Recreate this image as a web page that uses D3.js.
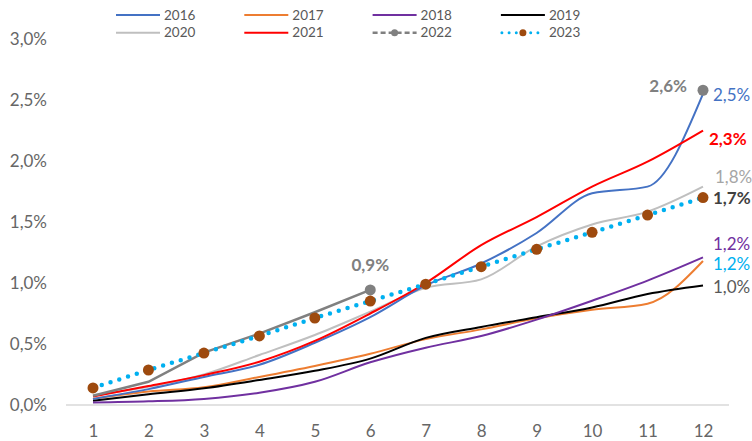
<!DOCTYPE html>
<html><head><meta charset="utf-8">
<script src="https://cdn.jsdelivr.net/npm/d3@7"></script>
<style>
html,body{margin:0;padding:0;background:#fff;}
svg{display:block;font-family:Lato,"Open Sans",sans-serif;}
</style></head>
<body><svg id="c" width="752" height="441"></svg>
<script>
const months = [1,2,3,4,5,6,7,8,9,10,11,12];
const yTicks = [0,0.5,1,1.5,2,2.5,3];
const s2016 = [0.05,0.13,0.23,0.33,0.51,0.72,0.98,1.16,1.41,1.735,1.79,2.55];
const s2017 = [0.05,0.11,0.145,0.23,0.32,0.42,0.54,0.62,0.71,0.78,0.83,1.18];
const s2018 = [0.02,0.03,0.05,0.10,0.19,0.35,0.47,0.565,0.70,0.855,1.02,1.21];
const s2019 = [0.035,0.088,0.137,0.205,0.28,0.38,0.55,0.64,0.72,0.80,0.91,0.98];
const s2020 = [0.08,0.15,0.25,0.41,0.574,0.765,0.96,1.03,1.30,1.48,1.585,1.79];
const s2021 = [0.07,0.155,0.245,0.355,0.525,0.75,1.0,1.31,1.54,1.79,1.995,2.25];
const s2022 = [0.076,0.19,0.43,0.585,0.76,0.943,null,null,null,null,null,2.58];
const s2023 = [0.14,0.287,0.426,0.566,0.713,0.852,0.99,1.134,1.276,1.415,1.557,1.70];
const seriesNames = ["2016","2017","2018","2019","2020","2021","2022","2023"];
const endLabels = ["2,5%","1,2%","1,2%","1,0%","1,8%","2,3%","2,6%","1,7%"];
const midLabel = "0,9%";

const colors = {"2016":"#4472C4","2017":"#ED7D31","2018":"#7030A0","2019":"#000000","2020":"#BFBFBF","2021":"#FF0000","2022":"#808080","2023":"#00B0F0"};
const data = {"2016":s2016,"2017":s2017,"2018":s2018,"2019":s2019,"2020":s2020,"2021":s2021,"2022":s2022,"2023":s2023};

const svg = d3.select("#c");
const x = d3.scaleLinear().domain([1,12]).range([93,703]);
const y = d3.scaleLinear().domain([0,3]).range([405,39]);

// y axis labels
const yAx = d3.axisLeft(y).tickValues(yTicks).tickSize(0).tickPadding(0)
  .tickFormat(d => d3.format(".1f")(d).replace(".", ",") + "%");
const gy = svg.append("g").attr("transform","translate(47,0)").call(yAx);
gy.select(".domain").remove();
gy.selectAll("text").attr("font-size",17).attr("fill","#666").attr("font-family","Lato,sans-serif");

// baseline
svg.append("line").attr("x1",66).attr("x2",729).attr("y1",y(0)).attr("y2",y(0))
  .attr("stroke","#D9D9D9").attr("stroke-width",1.5);

// x axis labels
const xAx = d3.axisBottom(x).tickValues(months).tickSize(0).tickPadding(0).tickFormat(d3.format("d"));
const gx = svg.append("g").attr("transform","translate(0,425)").call(xAx);
gx.select(".domain").remove();
gx.selectAll("text").attr("font-size",17).attr("fill","#666").attr("font-family","Lato,sans-serif");

const smooth = d3.line().defined(d => d.v != null).x(d => x(d.m)).y(d => y(d.v)).curve(d3.curveMonotoneX);
const straight = d3.line().defined(d => d.v != null).x(d => x(d.m)).y(d => y(d.v));
const pts = arr => arr.map((v,i) => ({m: months[i], v}));

["2020","2017","2019","2018","2016","2021"].forEach(k => {
  svg.append("path").attr("d", smooth(pts(data[k]))).attr("fill","none")
    .attr("stroke", colors[k]).attr("stroke-width", 2);
});

// 2022
svg.append("path").attr("d", straight(pts(s2022))).attr("fill","none")
  .attr("stroke", colors["2022"]).attr("stroke-width", 2.5);
const p22 = pts(s2022).filter(d => d.v != null && (d.m === 6 || d.m === 12));
svg.selectAll(".m22").data(p22).enter().append("circle")
  .attr("cx", d => x(d.m)).attr("cy", d => y(d.v)).attr("r", 5.5).attr("fill", colors["2022"]);

// 2023 dotted
svg.append("path").attr("d", straight(pts(s2023))).attr("fill","none")
  .attr("stroke", colors["2023"]).attr("stroke-width", 4.5)
  .attr("stroke-linecap","round").attr("stroke-dasharray","0 9.2");
svg.selectAll(".m23").data(pts(s2023)).enter().append("circle")
  .attr("cx", d => x(d.m)).attr("cy", d => y(d.v)).attr("r", 5.5).attr("fill", "#9E4A0E");

// end labels
const labelCfg = [
  {k:"2016", txt:endLabels[0], dy:1, dx:10, col:"#4472C4", w:400},
  {k:"2018", txt:endLabels[1], dy:-13, dx:10, col:"#7030A0", w:400},
  {k:"2017", txt:endLabels[2], dy:3, dx:10, col:"#00B0F0", w:400},
  {k:"2019", txt:endLabels[3], dy:2, dx:10, col:"#595959", w:400},
  {k:"2020", txt:endLabels[4], dy:-10, dx:12, col:"#A6A6A6", w:400},
  {k:"2021", txt:endLabels[5], dy:9, dx:6, col:"#FF0000", w:700},
  {k:"2023", txt:endLabels[7], dy:0, dx:10, col:"#404040", w:700}
];
labelCfg.forEach(c => {
  const v = data[c.k][11];
  svg.append("text").attr("x", x(12) + c.dx).attr("y", y(v) + c.dy)
    .attr("dy","0.35em").attr("font-size",17).attr("fill",c.col).attr("font-weight",c.w)
    .text(c.txt);
});
svg.append("text").attr("x", x(12) - 16).attr("y", y(s2022[11]) - 4).attr("dy","0.35em")
  .attr("text-anchor","end").attr("font-size",17).attr("font-weight",700).attr("fill","#808080").text(endLabels[6]);
svg.append("text").attr("x", x(6)).attr("y", y(s2022[5]) - 25).attr("dy","0.35em")
  .attr("text-anchor","middle").attr("font-size",17).attr("font-weight",700).attr("fill","#808080").text(midLabel);

// legend
const legend = svg.append("g");
seriesNames.forEach((k,i) => {
  const col = i % 4, row = Math.floor(i / 4);
  const lx = 116 + col * 128.3, ly = 15 + row * 17.7;
  const g = legend.append("g").attr("transform", `translate(${lx},${ly})`);
  if (k === "2022") {
    g.append("line").attr("x1",0).attr("x2",44).attr("y1",0).attr("y2",0)
      .attr("stroke",colors[k]).attr("stroke-width",2.5).attr("stroke-dasharray","5 3");
    g.append("circle").attr("cx",22).attr("cy",0).attr("r",3.5).attr("fill",colors[k]);
  } else if (k === "2023") {
    g.append("line").attr("x1",1).attr("x2",44).attr("y1",0).attr("y2",0)
      .attr("stroke",colors[k]).attr("stroke-width",3).attr("stroke-linecap","round").attr("stroke-dasharray","0 7.2");
    g.append("circle").attr("cx",22).attr("cy",0).attr("r",3.5).attr("fill","#9E4A0E");
  } else {
    g.append("line").attr("x1",0).attr("x2",44).attr("y1",0).attr("y2",0)
      .attr("stroke",colors[k]).attr("stroke-width",2);
  }
  g.append("text").attr("x",48).attr("y",0).attr("dy","0.35em").attr("font-size",13.5)
    .attr("fill","#595959").text(k);
});
</script></body></html>
